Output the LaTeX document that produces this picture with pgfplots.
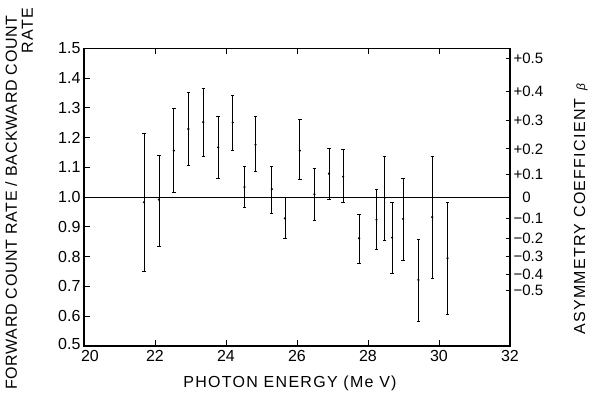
\documentclass[border=0pt]{standalone}
\usepackage{fontspec}
\setmainfont{Liberation Sans}
\usepackage{pgfplots}
\usepackage{pgfplotstable}
\pgfplotsset{compat=1.18}

\pgfplotstableread{
x      y      top    bot
21.69  0.983  1.214  0.749
22.11  0.992  1.141  0.834
22.53  1.156  1.299  1.017
22.94  1.229  1.353  1.105
23.36  1.252  1.364  1.136
23.78  1.167  1.272  1.064
24.19  1.251  1.341  1.156
24.52  1.034  1.103  0.964
24.83  1.176  1.272  1.085
25.29  1.027  1.103  0.947
25.66  0.929  0.998  0.860
26.08  1.156  1.262  1.059
26.49  1.010  1.096  0.921
26.90  1.079  1.165  0.994
27.30  1.069  1.159  0.981
27.75  0.862  0.941  0.776
28.24  0.924  1.025  0.824
28.47  0.998  1.136  0.856
28.68  0.864  0.984  0.745
28.99  0.927  1.064  0.786
29.42  0.722  0.859  0.582
29.81  0.933  1.136  0.727
30.24  0.795  0.984  0.605
}\data

\newcommand{\lab}{\fontsize{16}{19}\selectfont\addfontfeature{LetterSpace=8}}
\newcommand{\llab}{\fontsize{16}{19}\selectfont\addfontfeature{LetterSpace=4}}
\newcommand{\tlab}{\fontsize{16}{19}\selectfont}

\begin{document}
\begin{tikzpicture}
\begin{axis}[
  at={(0pt,0pt)}, anchor=south west,
  width=426pt, height=297.7pt, scale only axis,
  xmin=20, xmax=32, ymin=0.5, ymax=1.5,
  xtick={20,22,24,26,28,30,32},
  xticklabels={\hspace*{12pt}20,22,24,26,28,30,32},
  ytick={0.5,0.6,0.7,0.8,0.9,1.0,1.1,1.2,1.3,1.4,1.5},
  yticklabels={\raisebox{5pt}{0.5},0.6,0.7,0.8,0.9,1.0,1.1,1.2,1.3,1.4,1.5},
  xtick pos=both, ytick pos=left,
  tick align=inside,
  major tick length=6pt,
  tick style={black, line width=0.9pt},
  axis line style={black, line width=1.1pt},
  ticklabel style={font=\tlab},
  xticklabel style={yshift=-1pt},
  clip=false,
]
\addplot[black, line width=1pt, forget plot] coordinates {(20,1) (32,1)};
\addplot[black, only marks, mark=*, mark size=0.9pt,
  error bars/.cd, y dir=both, y explicit,
  error bar style={line width=0.8pt, black},
  error mark options={rotate=90, mark size=1.7pt, line width=0.8pt, black}]
  table[x=x, y=y, y error plus expr=\thisrow{top}-\thisrow{y},
        y error minus expr=\thisrow{y}-\thisrow{bot}] {\data};
\end{axis}
\begin{axis}[
  at={(0pt,0pt)}, anchor=south west,
  width=426pt, height=297.7pt, scale only axis,
  xmin=20, xmax=32, ymin=0.5, ymax=1.5,
  axis x line=none, axis y line*=right,
  ytick={1.467,1.355,1.257,1.162,1.075,1.0,0.930,0.861,0.800,0.741,0.686},
  yticklabels={+0.5,+0.4,+0.3,+0.2,+0.1,\phantom{+}0,−0.1,−0.2,−0.3,−0.4,−0.5},
  tick align=inside,
  major tick length=4.5pt,
  tick style={black, line width=0.9pt},
  axis line style={black, line width=1.1pt},
  yticklabel style={font=\fontsize{15}{18}\selectfont, anchor=west},
]
\addplot[draw=none, forget plot] coordinates {(20,1)};
\end{axis}
\node[rotate=90, anchor=base west, inner sep=0pt, font=\llab] at (-67pt,-44pt) {FORWARD COUNT RATE / BACKWARD COUNT};
\node[rotate=90, anchor=base east, inner sep=0pt, font=\lab] at (-51pt,338pt) {RATE};
\node[rotate=90, anchor=base west, inner sep=0pt, font=\lab] at (501pt,11pt) {ASYMMETRY COEFFICIENT\hspace{8pt}{\fontsize{12}{14}\selectfont\itshape β}};
\node[anchor=base, inner sep=0pt, font=\lab] at (206pt,-41pt) {PHOTON ENERGY (Me V)};
\pgfresetboundingbox
\path (-84pt,-46pt) rectangle (506pt,346pt);
\end{tikzpicture}
\end{document}
